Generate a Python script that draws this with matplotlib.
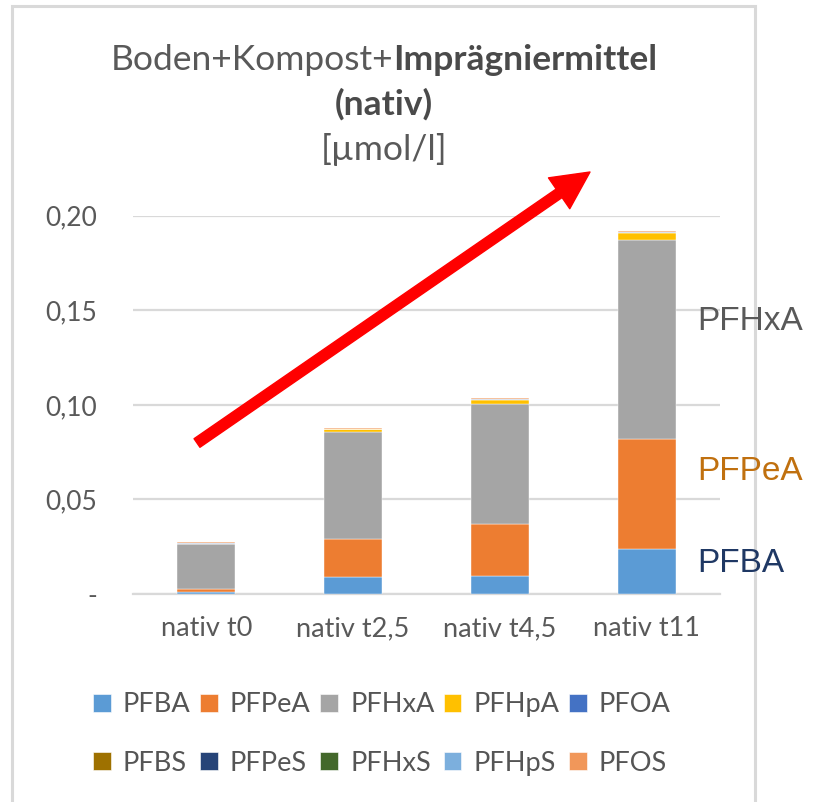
import matplotlib
matplotlib.use('Agg')
import matplotlib.pyplot as plt
from matplotlib.patches import Patch, Rectangle, FancyArrowPatch
import numpy as np

# data (µmol/l)
categories = ['nativ t0', 'nativ t2,5', 'nativ t4,5', 'nativ t11']
series = ['PFBA', 'PFPeA', 'PFHxA', 'PFHpA', 'PFOA',
          'PFBS', 'PFPeS', 'PFHxS', 'PFHpS', 'PFOS']
pfba = [0.0008, 0.0090, 0.0095, 0.0237]
pfpea = [0.0018, 0.0200, 0.0274, 0.0580]
pfhxa = [0.0238, 0.0565, 0.0633, 0.1055]
pfhpa = [0.0002, 0.0016, 0.0025, 0.0034]
pfoa = [0.0004, 0.0002, 0.0003, 0.0008]
pfbs = [0.0, 0.0, 0.0, 0.0]
pfpes = [0.0001, 0.0001, 0.0001, 0.0002]
pfhxs = [0.0, 0.0, 0.0, 0.0]
pfhps = [0.0, 0.0, 0.0, 0.0]
pfos = [0.0003, 0.0006, 0.0007, 0.0005]
y_ticks = [0.0, 0.05, 0.10, 0.15, 0.20]
y_tick_labels = ['-', '0,05', '0,10', '0,15', '0,20']

colors = ['#5B9BD5', '#ED7D31', '#A5A5A5', '#FFC000', '#4472C4',
          '#9E7100', '#264478', '#43682B', '#7CAFDD', '#F1975A']
grid_col = '#D9D9D9'
text_col = '#595959'

plt.rcParams['font.family'] = ['Lato', 'DejaVu Sans']

W, H = 815, 802
fig = plt.figure(figsize=(W / 100, H / 100), dpi=100)


def fx(px):
    return px / W


def fy(py):
    return 1 - py / H


ax = fig.add_axes([fx(133), fy(594), fx(720) - fx(133), fy(215.7) - fy(594)])

values = [pfba, pfpea, pfhxa, pfhpa, pfoa, pfbs, pfpes, pfhxs, pfhps, pfos]
x = np.arange(len(categories))
bottom = np.zeros(len(categories))
handles = []
for name, vals, col in zip(series, values, colors):
    ax.bar(x, vals, width=0.395, bottom=bottom, color=col,
           edgecolor='white', linewidth=0.3, zorder=3)
    bottom += np.array(vals)
    handles.append(Patch(facecolor=col, edgecolor='white', linewidth=0.4, label=name))

ax.set_xlim(-0.5, len(categories) - 0.5)
ax.set_ylim(0, 0.20)
ax.set_yticks(y_ticks)
ax.set_yticklabels(y_tick_labels)
ax.set_xticks(x)
ax.set_xticklabels(categories)
ax.tick_params(axis='y', length=0, pad=26, labelsize=19, labelcolor=text_col)
ax.tick_params(axis='x', length=0, pad=16, labelsize=19.5, labelcolor=text_col)
ax.grid(axis='y', color=grid_col, linewidth=1.6, zorder=0)
ax.set_axisbelow(True)
for s in ['top', 'right', 'left']:
    ax.spines[s].set_visible(False)
ax.spines['bottom'].set_color(grid_col)
ax.spines['bottom'].set_linewidth(1.6)

# legend, filled row by row like the original
order = []
for c in range(5):
    order += [handles[c], handles[c + 5]]
fig.legend(handles=order, loc='center', bbox_to_anchor=(fx(382), fy(734)),
           ncol=5, frameon=False, fontsize=19.5, labelcolor='#555555',
           handlelength=0.65, handleheight=0.65, handletextpad=0.45,
           columnspacing=0.35, labelspacing=1.25, borderpad=0)

# title: regular + bold part on the first line
fig.canvas.draw()
r = fig.canvas.get_renderer()
cx = fx(384)
t1 = fig.text(0, fy(60), 'Boden+Kompost+', fontsize=25.5, color=text_col,
              ha='left', va='center')
t2 = fig.text(0, fy(60), 'Imprägniermittel', fontsize=25.5, color='#4A4A4A',
              fontweight='bold', ha='left', va='center')
w1 = t1.get_window_extent(r).width / W
w2 = t2.get_window_extent(r).width / W
t1.set_x(cx - (w1 + w2) / 2)
t2.set_x(cx - (w1 + w2) / 2 + w1)
fig.text(cx, fy(104), '(nativ)', fontsize=25.5, color='#4A4A4A',
         fontweight='bold', ha='center', va='center')
fig.text(cx, fy(150), '[µmol/l]', fontsize=25.5, color=text_col,
         ha='center', va='center')

# chart frame
fig.patches.append(Rectangle((fx(12), fy(850)), fx(755) - fx(12), fy(6) - fy(850),
                             transform=fig.transFigure, fill=False,
                             edgecolor=grid_col, linewidth=2.2))

# red trend arrow
arrow = FancyArrowPatch((197, H - 443), (590, H - 172),
                        transform=None, color='#FF0000',
                        arrowstyle='simple,head_length=2.7,head_width=2.7,tail_width=0.75',
                        mutation_scale=10, shrinkA=0, shrinkB=0, zorder=10)
fig.patches.append(arrow)

# annotations on the right
side = dict(fontsize=24, family=['Liberation Sans', 'DejaVu Sans'], ha='left', va='center')
fig.text(fx(697), fy(322), 'PFHxA', color='#595959', **side)
fig.text(fx(697), fy(472), 'PFPeA', color='#C0700F', **side)
fig.text(fx(697), fy(563), 'PFBA', color='#1F3864', **side)

fig.savefig('out.png', dpi=100)
